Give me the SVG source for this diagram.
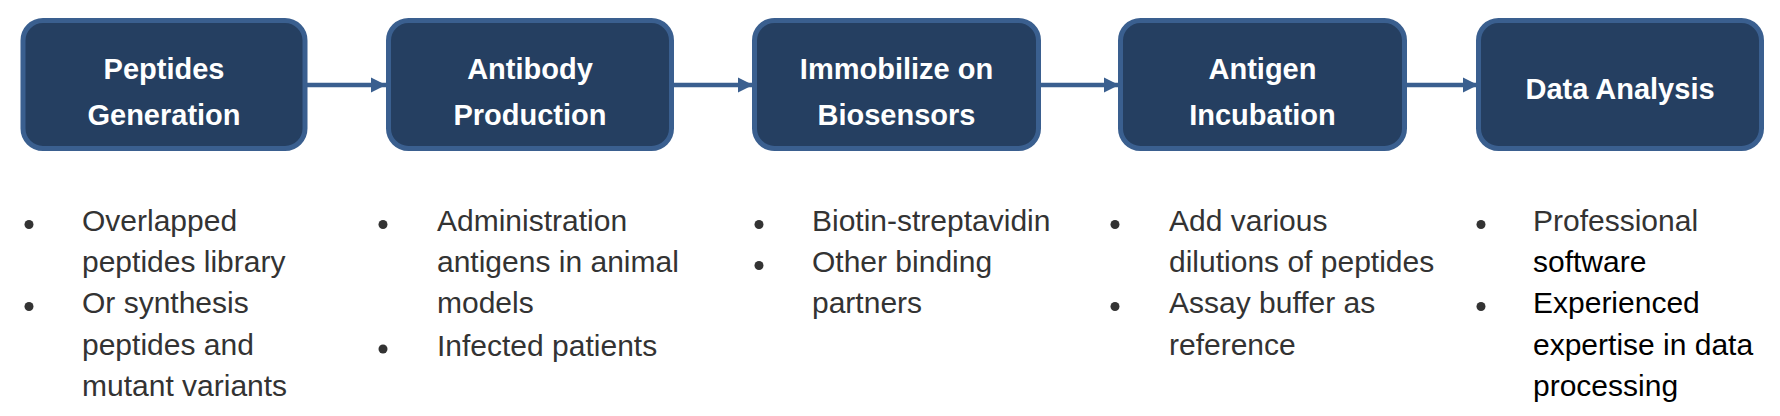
<svg xmlns="http://www.w3.org/2000/svg" width="1780" height="416" viewBox="0 0 1780 416">
<style>
.box{fill:#253F61;stroke:#3A5F8F;stroke-width:5}
.title{font-family:"Liberation Sans",Arial,sans-serif;font-weight:bold;font-size:29px;fill:#FFFFFF;text-anchor:middle}
.conn{stroke:#3A5F8F;stroke-width:4.5;fill:none}
.item{font-family:"Liberation Sans",Arial,sans-serif;font-size:30px;fill:#333333}
.dark{fill:#000000}
.dot{fill:#333333}
</style>
<defs>
<marker id="ah" markerUnits="userSpaceOnUse" markerWidth="16" markerHeight="16" refX="15" refY="8" orient="auto">
<path d="M0,0.5 L15,8 L0,15.5 Z" fill="#3A5F8F"/>
</marker>
</defs>
<rect width="1780" height="416" fill="#FFFFFF"/>
<g id="connectors">
<path class="conn" d="M306,85 L386,85" marker-end="url(#ah)"/>
<path class="conn" d="M673,85 L753,85" marker-end="url(#ah)"/>
<path class="conn" d="M1040,85 L1119,85" marker-end="url(#ah)"/>
<path class="conn" d="M1396,85 L1478,85" marker-end="url(#ah)"/>
</g>
<g id="node1">
<rect class="box" x="23" y="20.5" width="282" height="128" rx="20"/>
<text class="title" x="164" y="79">Peptides</text>
<text class="title" x="164" y="125">Generation</text>
</g>
<g id="node2">
<rect class="box" x="388.5" y="20.5" width="283" height="128" rx="20"/>
<text class="title" x="530" y="79">Antibody</text>
<text class="title" x="530" y="125">Production</text>
</g>
<g id="node3">
<rect class="box" x="754.5" y="20.5" width="284" height="128" rx="20"/>
<text class="title" x="896.5" y="79">Immobilize on</text>
<text class="title" x="896.5" y="125">Biosensors</text>
</g>
<g id="node4">
<rect class="box" x="1120.5" y="20.5" width="284" height="128" rx="20"/>
<text class="title" x="1262.5" y="79">Antigen</text>
<text class="title" x="1262.5" y="125">Incubation</text>
</g>
<g id="node5">
<rect class="box" x="1478.5" y="20.5" width="283" height="128" rx="20"/>
<text class="title" x="1620" y="99">Data Analysis</text>
</g>
<g id="list1">
<circle class="dot" cx="29" cy="224.5" r="4.5"/>
<circle class="dot" cx="29" cy="306.5" r="4.5"/>
<text class="item" x="82" y="231">Overlapped</text>
<text class="item" x="82" y="272">peptides library</text>
<text class="item" x="82" y="313">Or synthesis</text>
<text class="item" x="82" y="355">peptides and</text>
<text class="item" x="82" y="396">mutant variants</text>
</g>
<g id="list2">
<circle class="dot" cx="383" cy="224.5" r="4.5"/>
<circle class="dot" cx="383" cy="349" r="4.5"/>
<text class="item" x="437" y="231">Administration</text>
<text class="item" x="437" y="272">antigens in animal</text>
<text class="item" x="437" y="313">models</text>
<text class="item" x="437" y="355.5">Infected patients</text>
</g>
<g id="list3">
<circle class="dot" cx="759" cy="224.5" r="4.5"/>
<circle class="dot" cx="759" cy="265.5" r="4.5"/>
<text class="item" x="812" y="231">Biotin-streptavidin</text>
<text class="item" x="812" y="272">Other binding</text>
<text class="item" x="812" y="313">partners</text>
</g>
<g id="list4">
<circle class="dot" cx="1115" cy="224.5" r="4.5"/>
<circle class="dot" cx="1115" cy="306.5" r="4.5"/>
<text class="item" x="1169" y="231">Add various</text>
<text class="item" x="1169" y="272">dilutions of peptides</text>
<text class="item" x="1169" y="313">Assay buffer as</text>
<text class="item" x="1169" y="355">reference</text>
</g>
<g id="list5">
<circle class="dot" cx="1481" cy="224.5" r="4.5"/>
<circle class="dot" cx="1481" cy="306.5" r="4.5"/>
<text class="item" x="1533" y="231">Professional</text>
<text class="item dark" x="1533" y="272">software</text>
<text class="item dark" x="1533" y="313">Experienced</text>
<text class="item dark" x="1533" y="355">expertise in data</text>
<text class="item dark" x="1533" y="396">processing</text>
</g>
</svg>
